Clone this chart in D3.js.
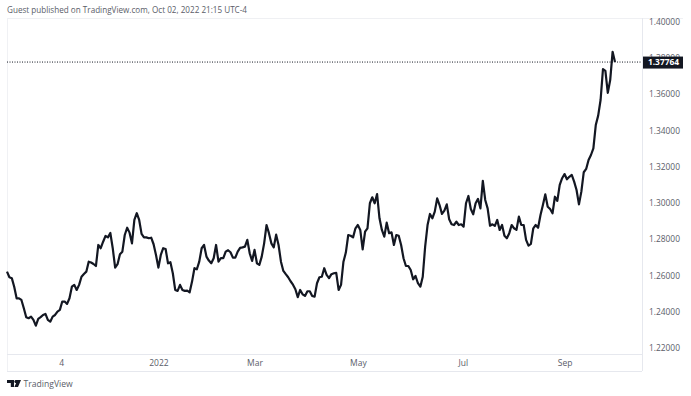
<!DOCTYPE html>
<html>
<head>
<meta charset="utf-8">
<script src="https://cdn.jsdelivr.net/npm/d3@7/dist/d3.min.js"></script>
<style>
html,body{margin:0;padding:0;background:#fff;overflow:hidden}
text{font-family:"Open Sans","Noto Sans",sans-serif}
</style>
</head>
<body>
<svg id="chart" width="691" height="396"></svg>
<script>
const closes = [
1.2621,1.2590,1.2585,1.2538,1.2474,1.2474,1.2465,1.2419,1.2370,1.2364,
1.2373,1.2355,1.2323,1.2360,1.2370,1.2382,1.2388,1.2355,1.2345,1.2373,
1.2382,1.2401,1.2410,1.2456,1.2456,1.2443,1.2474,1.2538,1.2548,1.2520,
1.2548,1.2593,1.2608,1.2621,1.2676,1.2671,1.2663,1.2652,1.2768,1.2750,
1.2786,1.2818,1.2810,1.2834,1.2750,1.2643,1.2662,1.2717,1.2731,1.2823,
1.2863,1.2836,1.2777,1.2906,1.2943,1.2906,1.2829,1.2810,1.2810,1.2805,
1.2808,1.2772,1.2713,1.2643,1.2713,1.2750,1.2746,1.2667,1.2673,1.2612,
1.2520,1.2515,1.2548,1.2520,1.2515,1.2516,1.2507,1.2566,1.2640,1.2634,
1.2676,1.2750,1.2768,1.2704,1.2682,1.2667,1.2695,1.2768,1.2676,1.2695,
1.2695,1.2731,1.2739,1.2728,1.2698,1.2698,1.2731,1.2752,1.2755,1.2759,
1.2796,1.2722,1.2680,1.2741,1.2667,1.2658,1.2704,1.2777,1.2878,1.2833,
1.2777,1.2755,1.2825,1.2768,1.2676,1.2625,1.2607,1.2590,1.2568,1.2549,
1.2524,1.2480,1.2520,1.2496,1.2487,1.2513,1.2513,1.2487,1.2483,1.2557,
1.2590,1.2593,1.2640,1.2603,1.2585,1.2607,1.2612,1.2614,1.2520,1.2548,
1.2676,1.2726,1.2823,1.2819,1.2810,1.2860,1.2878,1.2851,1.2744,1.2841,
1.2860,1.2998,1.3031,1.2998,1.3049,1.2915,1.2851,1.2814,1.2891,1.2833,
1.2838,1.2768,1.2823,1.2819,1.2768,1.2695,1.2652,1.2652,1.2630,1.2579,
1.2597,1.2557,1.2538,1.2593,1.2759,1.2878,1.2939,1.2915,1.2952,1.3025,
1.2988,1.2939,1.2957,1.2992,1.2910,1.2882,1.2878,1.2896,1.2878,1.2882,
1.2869,1.2998,1.3038,1.2966,1.2937,1.2998,1.3022,1.2970,1.3121,1.3016,
1.2970,1.2874,1.2882,1.2873,1.2906,1.2851,1.2878,1.2819,1.2805,1.2833,
1.2878,1.2860,1.2851,1.2924,1.2878,1.2878,1.2796,1.2764,1.2774,1.2860,
1.2878,1.2863,1.2933,1.2988,1.3047,1.2979,1.2966,1.2943,1.3034,1.3011,
1.3099,1.3136,1.3159,1.3130,1.3144,1.3154,1.3117,1.3071,1.2992,1.3062,
1.3169,1.3187,1.3236,1.3264,1.3301,1.3429,1.3481,1.3567,1.3738,1.3728,
1.3607,1.3677,1.3833,1.37764
];
const yTicks = [1.22,1.24,1.26,1.28,1.30,1.32,1.34,1.36,1.38,1.40];
const xTickBars = [22.5,63,103,146,189.7,232];
const xTickLabels = ["4","2022","Mar","May","Jul","Sep"];
const lastPrice = 1.37764;
const headerText = "Guest published on TradingView.com, Oct 02, 2022 21:15 UTC-4";
const brandText = "TradingView";

const svg = d3.select("#chart");
const L = 7, R = 642, T = 18, B = 354, AX = 371;
const x = d3.scaleLinear().domain([0, closes.length - 1]).range([7, 615]);
const y = d3.scaleLinear().domain([1.22, 1.40]).range([348, 21.5]);
const textColor = "#5a5d68";
const fontStack = '"Open Sans","Noto Sans",sans-serif';

// Frame
const frame = "#e6e8ee";
svg.append("line").attr("x1",L).attr("x2",683).attr("y1",T+.5).attr("y2",T+.5).attr("stroke","#eff0f3");
svg.append("line").attr("x1",L+.5).attr("x2",L+.5).attr("y1",T).attr("y2",AX).attr("stroke","#f0f1f4");
svg.append("line").attr("x1",L).attr("x2",R).attr("y1",B+.5).attr("y2",B+.5).attr("stroke",frame);
svg.append("line").attr("x1",L).attr("x2",R).attr("y1",AX+.5).attr("y2",AX+.5).attr("stroke",frame);
svg.append("line").attr("x1",R+.5).attr("x2",R+.5).attr("y1",T).attr("y2",AX).attr("stroke",frame);

// Header
svg.append("text").attr("x",7).attr("y",13).attr("font-size",8.15).attr("fill",textColor).text(headerText);

// Y axis
const yAxis = d3.axisRight(y).tickValues(yTicks).tickSize(0).tickPadding(0).tickFormat(d3.format(".5f"));
const gy = svg.append("g").attr("transform","translate(649,0)").call(yAxis);
gy.select(".domain").remove();
gy.selectAll("text").attr("font-size",8.4).attr("fill",textColor).attr("font-family",fontStack);

// X axis
const xAxis = d3.axisBottom(x).tickValues(xTickBars).tickSize(0).tickPadding(0)
  .tickFormat((d,i)=>xTickLabels[i]);
const gx = svg.append("g").attr("transform","translate(0,360)").call(xAxis);
gx.select(".domain").remove();
gx.selectAll("text").attr("font-size",8.5).attr("fill",textColor).attr("font-family",fontStack);

// Last price dotted line
svg.append("line").attr("x1",L).attr("x2",R).attr("y1",y(lastPrice)).attr("y2",y(lastPrice))
  .attr("stroke","#131722").attr("stroke-width",1).attr("stroke-dasharray","1 1.5");

// Price line
const line = d3.line().x((d,i)=>x(i)).y(d=>y(d));
svg.append("path").datum(closes).attr("d",line).attr("fill","none")
  .attr("stroke","#131722").attr("stroke-width",2.2).attr("stroke-linejoin","round");

// Last price tag
svg.append("rect").attr("x",643).attr("y",y(lastPrice)-5.5).attr("width",40).attr("height",12).attr("fill","#131722");
svg.append("text").attr("x",663.5).attr("y",y(lastPrice)+3.3).attr("text-anchor","middle")
  .attr("font-size",8.4).attr("font-weight",700).attr("fill","#fff").text(d3.format(".5f")(lastPrice));

// Brand
svg.append("path").attr("fill","#131722")
  .attr("d","M7 380h7v7h-3.2v-4H7zM15.5 380h5.5l-3 7h-3.6l1.7-4h-.6z");
svg.append("circle").attr("cx",15.9).attr("cy",381.6).attr("r",1.5).attr("fill","#131722");
svg.append("text").attr("x",23.5).attr("y",387.3).attr("font-size",8.6).attr("fill",textColor).text(brandText);
</script>
</body>
</html>
